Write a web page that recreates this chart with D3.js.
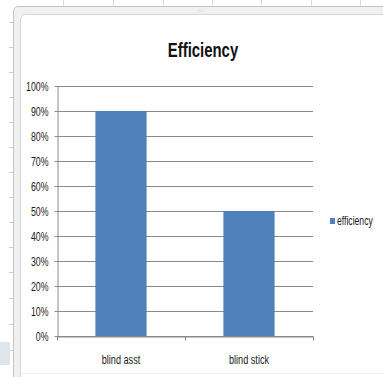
<!DOCTYPE html>
<html><head><meta charset="utf-8">
<script src="https://cdn.jsdelivr.net/npm/d3@7"></script>
<style>html,body{margin:0;padding:0;background:#fff;}svg{display:block;}</style>
</head><body>
<svg id="c" width="383" height="377"></svg>
<script>
const categories = ["blind asst", "blind stick"];
const values = [0.9, 0.5];
const seriesName = "efficiency";
const yTicks = [0, 0.1, 0.2, 0.3, 0.4, 0.5, 0.6, 0.7, 0.8, 0.9, 1.0];
const title = "Efficiency";

const svg = d3.select("#c");
const font = "'Liberation Sans', Arial, sans-serif";

function condense(sel, k) {
  sel.each(function () {
    const w = this.getComputedTextLength();
    d3.select(this).attr("textLength", w * k).attr("lengthAdjust", "spacingAndGlyphs");
  });
}

// spreadsheet background decorations
const colX = [63, 113, 163, 212, 261, 311, 360];
svg.selectAll(".col").data(colX).enter().append("line")
  .attr("x1", d => d + 0.5).attr("x2", d => d + 0.5).attr("y1", 0).attr("y2", 7)
  .attr("stroke", "#dcdcdc").attr("stroke-width", 1);
const rowY = [22, 47, 72, 97, 122, 147, 172, 197, 222, 247, 272, 298, 324, 350];
svg.selectAll(".row").data(rowY).enter().append("line")
  .attr("x1", 9).attr("x2", 13).attr("y1", d => d + 0.5).attr("y2", d => d + 0.5)
  .attr("stroke", "#cfcfcf");
svg.append("rect").attr("x", 0).attr("y", 342).attr("width", 10).attr("height", 23).attr("fill", "#dfe6eb");

// chart frame
svg.append("path")
  .attr("d", "M13.5,377 L13.5,12 Q13.5,6.5 19,6.5 L383,6.5 L383,14 L25,14 Q20,14 20,19 L20,377 Z")
  .attr("fill", "#f0f0f0").attr("stroke", "none");
svg.append("path").attr("d", "M13.5,377 L13.5,12 Q13.5,6.5 19,6.5 L383,6.5")
  .attr("fill", "none").attr("stroke", "#c4c4c4");
svg.append("path").attr("d", "M20.5,377 L20.5,20 Q20.5,14.5 26,14.5 L383,14.5")
  .attr("fill", "none").attr("stroke", "#d6d6d6");
svg.append("text").attr("x", 201).attr("y", 12).attr("text-anchor", "middle")
  .attr("font-family", font).attr("font-size", 6).attr("fill", "#b5b5b5").text("::::");
svg.append("line").attr("x1", 21).attr("x2", 383).attr("y1", 373.5).attr("y2", 373.5).attr("stroke", "#eeeeee");

// scales
const x = d3.scaleBand().domain(categories).range([57, 313]).paddingInner(0.6).paddingOuter(0.3);
const y = d3.scaleLinear().domain([0, 1]).range([336, 86]);

// gridlines
svg.append("g").selectAll("line").data(yTicks).enter().append("line")
  .attr("x1", 57).attr("x2", 313)
  .attr("y1", d => Math.round(y(d)) + 0.5).attr("y2", d => Math.round(y(d)) + 0.5)
  .attr("stroke", "#8a8a8a").attr("stroke-width", 1);

// bars
svg.append("g").selectAll("rect").data(values).enter().append("rect")
  .attr("x", (d, i) => x(categories[i]))
  .attr("width", x.bandwidth())
  .attr("y", d => y(d))
  .attr("height", d => y(0) - y(d))
  .attr("fill", "#4f81bd");

// y axis
const yAxis = d3.axisLeft(y).tickValues(yTicks).tickFormat(d3.format(".0%")).tickSizeInner(3).tickSizeOuter(0).tickPadding(6);
const gy = svg.append("g").attr("transform", "translate(57.5,0)").call(yAxis);
gy.select(".domain").attr("stroke", "#8a8a8a");
gy.selectAll(".tick line").attr("stroke", "#8a8a8a");
gy.selectAll("text").attr("font-family", font).attr("font-size", 12).attr("fill", "#1a1a1a").attr("dy", "0.35em");
condense(gy.selectAll("text"), 0.73);

// x axis
const xAxis = d3.axisBottom(x).tickSize(0).tickPadding(19);
const gx = svg.append("g").attr("transform", "translate(0,336.5)").call(xAxis);
gx.select(".domain").attr("stroke", "#8a8a8a");
gx.selectAll("text").attr("font-family", font).attr("font-size", 12.5).attr("fill", "#1a1a1a");
condense(gx.selectAll("text"), 0.73);
const bounds = [57, 57 + x.step(), 57 + 2 * x.step()];
gx.selectAll(".bnd").data(bounds).enter().append("line")
  .attr("x1", d => Math.round(d) + 0.5).attr("x2", d => Math.round(d) + 0.5)
  .attr("y1", 0).attr("y2", 4).attr("stroke", "#8a8a8a");

// title
const t = svg.append("text").attr("x", 203).attr("y", 57).attr("text-anchor", "middle")
  .attr("font-family", font).attr("font-weight", "bold").attr("font-size", 21)
  .attr("fill", "#111").text(title);
condense(t, 0.71);

// legend
const lg = svg.append("g").attr("transform", "translate(330,218)");
lg.append("rect").attr("x", 0).attr("y", 0).attr("width", 5).attr("height", 6).attr("fill", "#4f81bd");
lg.append("g").attr("transform", "translate(7,7) scale(0.72,1)")
  .append("text").attr("x", 0).attr("y", 0).attr("font-family", font).attr("font-size", 12)
  .attr("fill", "#1a1a1a").text(seriesName);
</script>
</body></html>
